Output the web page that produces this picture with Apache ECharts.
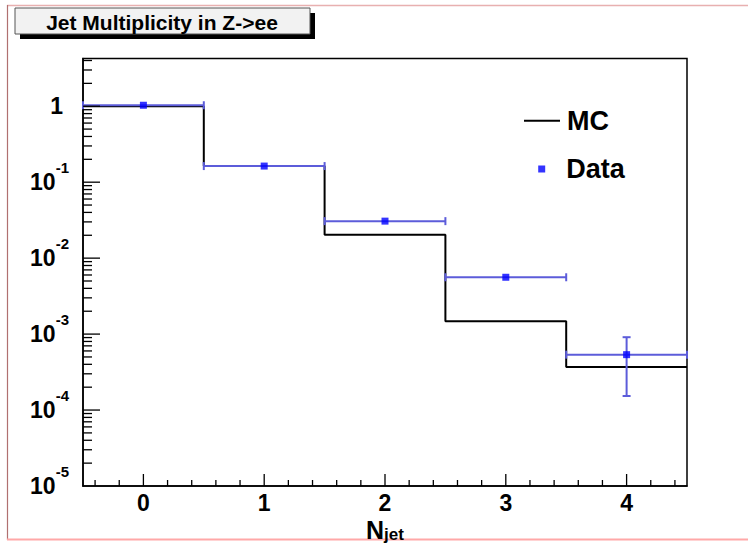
<!DOCTYPE html>
<html><head><meta charset="utf-8">
<script src="https://cdn.jsdelivr.net/npm/echarts@6/dist/echarts.min.js"></script>
<style>html,body{margin:0;padding:0;background:#fff}#c{width:748px;height:544px}</style>
</head><body><div id="c"></div>
<script>
// ---- data ----
const binCenters = [0, 1, 2, 3, 4];
const binHalfWidth = 0.5;
const mcValues = [1.0, 0.163, 0.0203, 0.00148, 0.000368];
const dataValues = [1.03, 0.163, 0.0307, 0.0056, 0.000536];
const dataLow = [1.03, 0.163, 0.0307, 0.0056, 0.000153];
const dataHigh = [1.03, 0.163, 0.0307, 0.0056, 0.00091];
const xTickLabels = ['0', '1', '2', '3', '4'];
const yDecades = [-5, -4, -3, -2, -1, 0];
const xMin = -0.5, xMax = 4.5, yMin = 1e-5, yMax = 4.25;

const FONT = '"Liberation Sans", Arial, Helvetica, sans-serif';

// MC histogram as step line built from bins
const mcStep = binCenters.map((c, i) => [c - binHalfWidth, mcValues[i]])
  .concat([[binCenters[binCenters.length - 1] + binHalfWidth, mcValues[mcValues.length - 1]]]);

// tick list (axis decorations)
const tickData = [];
for (let k = -4; k <= 44; k += 2) {
  const v = k / 10;
  if (v <= xMin || v >= xMax) continue;
  tickData.push([v, yMin, 0, Math.abs(v - Math.round(v)) < 1e-9 ? 1 : 0]);
}
for (let d = -5; d <= 0; d++) {
  for (let m = 1; m <= 9; m++) {
    const v = m * Math.pow(10, d);
    if (v > yMax) break;
    if (d === -5 && m === 1) continue;
    tickData.push([xMin, v, 1, m === 1 ? 1 : 0]);
  }
}

const chart = echarts.init(document.getElementById('c'), null, {renderer: 'svg', width: 748, height: 544});

const labelBase = {fontFamily: FONT, fontWeight: 'bold', color: '#000'};

chart.setOption({
  animation: false,
  backgroundColor: '#fff',
  title: {
    text: 'Jet Multiplicity in Z->ee',
    left: 162, top: 11, padding: 0, textAlign: 'center',
    textStyle: Object.assign({fontSize: 21, lineHeight: 22}, labelBase)
  },
  legend: [
    {
      data: ['MC'], left: 523, top: 106.7, padding: 0, itemWidth: 36, itemHeight: 14,
      selectedMode: false,
      itemStyle: {opacity: 0},
      lineStyle: {opacity: 1, color: '#000', width: 2},
      textStyle: Object.assign({fontSize: 27, lineHeight: 28, padding: [0, 0, 0, 2]}, labelBase)
    },
    {
      data: [{name: 'Data', icon: 'rect'}], left: 538.2, top: 155, padding: 0, itemWidth: 7, itemHeight: 7,
      selectedMode: false,
      textStyle: Object.assign({fontSize: 27, lineHeight: 28, padding: [0, 0, 0, 16]}, labelBase)
    }
  ],
  grid: {left: 83, right: 61, top: 58.5, bottom: 58, show: true, borderColor: '#000', borderWidth: 1.5,
         backgroundColor: 'transparent', containLabel: false, outerBoundsMode: 'none'},
  xAxis: {
    type: 'value', min: xMin, max: xMax, interval: 0.1,
    axisLine: {onZero: false, lineStyle: {color: '#000', width: 1.5}},
    axisTick: {show: false}, splitLine: {show: false},
    axisLabel: Object.assign({
      fontSize: 23, margin: 5,
      formatter: v => {
        const r = Math.round(v);
        if (Math.abs(v - r) > 1e-6) return '';
        const idx = binCenters.indexOf(r);
        return idx >= 0 ? xTickLabels[idx] : '';
      }
    }, labelBase),
    name: '{n|N}{j|jet}', nameLocation: 'middle', nameGap: 31, nameMoveOverlap: false,
    nameTextStyle: {
      rich: {
        n: Object.assign({fontSize: 25, lineHeight: 26}, labelBase),
        j: Object.assign({fontSize: 17, lineHeight: 17, padding: [9, 0, 0, 0]}, labelBase)
      }
    }
  },
  yAxis: {
    type: 'log', logBase: 10, min: yMin, max: yMax,
    axisLine: {onZero: false, lineStyle: {color: '#000', width: 1.5}},
    axisTick: {show: false}, splitLine: {show: false}, minorTick: {show: false},
    axisLabel: {
      margin: 14,
      formatter: v => {
        const l = Math.log10(v);
        const e = Math.round(l);
        if (Math.abs(l - e) > 1e-6 || yDecades.indexOf(e) < 0) return '';
        if (e === 0) return '{one|1}';
        return '{b|10}{s|' + e + '}';
      },
      rich: {
        b: Object.assign({fontSize: 23, lineHeight: 24}, labelBase),
        s: Object.assign({fontSize: 15, lineHeight: 15, padding: [0, 0, 30, 0]}, labelBase),
        one: Object.assign({fontSize: 23, lineHeight: 24, padding: [0, 6, 0, 0]}, labelBase)
      }
    }
  },
  graphic: [
    {type: 'line', shape: {x1: 7, y1: 5.5, x2: 748, y2: 5.5}, style: {stroke: '#e8b0b0', lineWidth: 1.5}, silent: true},
    {type: 'line', shape: {x1: 7.5, y1: 5, x2: 7.5, y2: 540}, style: {stroke: '#b07070', lineWidth: 1.2}, silent: true},
    {type: 'line', shape: {x1: 7, y1: 539.5, x2: 748, y2: 539.5}, style: {stroke: '#ffa8a8', lineWidth: 2}, silent: true},
    {type: 'rect', shape: {x: 20, y: 13, width: 295, height: 26}, style: {fill: '#000'}, silent: true, z: 0},
    {type: 'rect', shape: {x: 15, y: 8, width: 295, height: 26}, style: {fill: '#f2f2f2', stroke: '#555', lineWidth: 1}, silent: true, z: 1}
  ],
  series: [
    {
      type: 'line', name: 'MC', step: 'end', data: mcStep, symbol: 'none',
      lineStyle: {color: '#000', width: 2}, itemStyle: {color: '#000'}, z: 2, silent: true
    },
    {
      type: 'custom', name: 'DataErrors', silent: true, z: 3,
      data: binCenters.map((c, i) => [c, dataValues[i], dataLow[i], dataHigh[i]]),
      encode: {x: 0, y: 1},
      renderItem: (params, api) => {
        const x = api.value(0), y = api.value(1), lo = api.value(2), hi = api.value(3);
        const pL = api.coord([x - binHalfWidth, y]);
        const pR = api.coord([x + binHalfWidth, y]);
        const pLo = api.coord([x, lo]);
        const pHi = api.coord([x, hi]);
        const st = {stroke: '#5c5cda', lineWidth: 2};
        const ch = [
          {type: 'line', shape: {x1: pL[0], y1: pL[1], x2: pR[0], y2: pR[1]}, style: st},
          {type: 'line', shape: {x1: pL[0], y1: pL[1] - 4, x2: pL[0], y2: pL[1] + 4}, style: st},
          {type: 'line', shape: {x1: pR[0], y1: pR[1] - 4, x2: pR[0], y2: pR[1] + 4}, style: st}
        ];
        if (pLo[1] - pHi[1] > 8) {
          ch.push({type: 'line', shape: {x1: pHi[0], y1: pHi[1], x2: pLo[0], y2: pLo[1]}, style: st});
          ch.push({type: 'line', shape: {x1: pHi[0] - 4, y1: pHi[1], x2: pHi[0] + 4, y2: pHi[1]}, style: st});
          ch.push({type: 'line', shape: {x1: pLo[0] - 4, y1: pLo[1], x2: pLo[0] + 4, y2: pLo[1]}, style: st});
        }
        return {type: 'group', children: ch};
      }
    },
    {
      type: 'scatter', name: 'Data', symbol: 'rect', symbolSize: 7, z: 4, silent: true,
      data: binCenters.map((c, i) => [c, dataValues[i]]),
      itemStyle: {color: '#0000ff'}
    },
    {
      type: 'custom', name: 'ticks', silent: true, z: 5,
      data: tickData,
      encode: {x: 0, y: 1},
      renderItem: (params, api) => {
        const p = api.coord([api.value(0), api.value(1)]);
        const dir = api.value(2), major = api.value(3);
        const st = {stroke: '#000', lineWidth: 1.3};
        if (dir === 0) {
          const len = major ? 12 : 6;
          return {type: 'line', shape: {x1: p[0], y1: p[1], x2: p[0], y2: p[1] - len}, style: st};
        }
        const len = major ? 17 : 9;
        return {type: 'line', shape: {x1: p[0], y1: p[1], x2: p[0] + len, y2: p[1]}, style: st};
      }
    }
  ]
});
</script>
</body></html>
